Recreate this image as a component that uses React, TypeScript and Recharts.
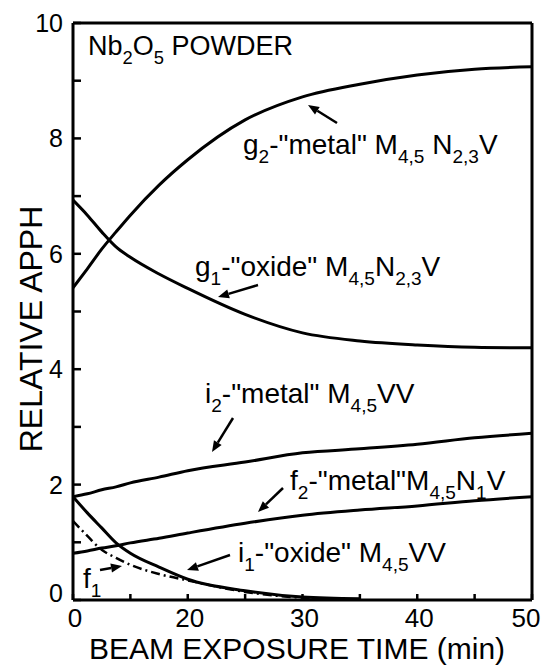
import React from "react";
import { LineChart, Line, XAxis, YAxis, Customized } from "recharts";

const FONT = "'Liberation Sans', Arial, sans-serif";

// sample times (min) and the values
const TIME_MIN = [0, 2.5, 5, 7.5, 10, 15, 20, 25, 30, 35, 40, 45, 50];
const G2_METAL = [5.41, 5.74, 6.08, 6.38, 6.67, 7.19, 7.63, 8.32, 8.72, 8.94, 9.1, 9.2, 9.24];
const G1_OXIDE = [6.93, 6.67, 6.38, 6.12, 5.94, 5.65, 5.4, 4.95, 4.63, 4.49, 4.42, 4.38, 4.37];
const I2_METAL = [1.79, 1.84, 1.91, 1.96, 2.03, 2.13, 2.24, 2.39, 2.55, 2.62, 2.7, 2.81, 2.89];
const F2_METAL = [0.81, 0.85, 0.9, 0.94, 0.99, 1.07, 1.16, 1.33, 1.47, 1.56, 1.63, 1.72, 1.79];
const I1_OXIDE = [1.79, 1.51, 1.25, 0.99, 0.81, 0.57, 0.36, 0.16, 0.05, 0.02];
const F1 = [1.37, 1.11, 0.87, 0.73, 0.61, 0.45, 0.34, 0.14, 0.04, 0.01];

const X_TICKS_MIN = [0, 10, 20, 25, 30, 35, 40, 45, 50];
const X_TICK_LABELS = ["0", "", "20", "", "30", "", "40", "", "50"];
const Y_TICKS = [0, 1, 2, 3, 4, 5, 6, 7, 8, 9, 10];
const Y_TICK_LABELS = ["0", "", "2", "", "4", "", "6", "", "8", "", "10"];

// the printed time axis is uneven: 0-20 min spans two tick steps, after that one step per 5 min
function axisPos(t: number) {
  return t <= 20 ? t / 10 : 2 + (t - 20) / 5;
}

function series(values: number[]) {
  return values.map((v, i) => ({ x: axisPos(TIME_MIN[i]), y: v }));
}

const X_TICK_POS = X_TICKS_MIN.map(axisPos);

const LeftTick = (props: any) => {
  const { x, y, payload } = props;
  const label = Y_TICK_LABELS[Y_TICKS.indexOf(payload.value)];
  return (
    <g>
      <line x1={x} y1={y} x2={x + 8} y2={y} stroke="#000" strokeWidth={2.5} />
      {label && (
        <text x={x - 10} y={y + 9 - (payload.value === 0 ? 7 : 0)} textAnchor="end" fontSize={25} fontFamily={FONT} fill="#000">
          {label}
        </text>
      )}
    </g>
  );
};

const RightTick = (props: any) => {
  const { x, y } = props;
  return <line x1={x} y1={y} x2={x - 6} y2={y} stroke="#000" strokeWidth={2.5} />;
};

const BottomTick = (props: any) => {
  const { x, y, payload } = props;
  const i = X_TICK_POS.indexOf(payload.value);
  const label = X_TICK_LABELS[i];
  const shift = i === X_TICK_POS.length - 1 ? -6 : 2;
  return (
    <g>
      <line x1={x} y1={y} x2={x} y2={y - 6} stroke="#000" strokeWidth={2.5} />
      {label && (
        <text x={x + shift} y={y + 27} textAnchor="middle" fontSize={26} fontFamily={FONT} fill="#000">
          {label}
        </text>
      )}
    </g>
  );
};

const TopTick = (props: any) => {
  const { x, y } = props;
  return <line x1={x} y1={y} x2={x} y2={y + 6} stroke="#000" strokeWidth={2.5} />;
};

// text pieces: [string, isSubscript]
function Lettering({ x, y, parts, size = 28 }: { x: number; y: number; parts: [string, boolean][]; size?: number }) {
  let sub = false;
  return (
    <text x={x} y={y} fontSize={size} fontFamily={FONT} fill="#000" style={{ whiteSpace: "pre" }}>
      {parts.map(([s, isSub], i) => {
        const dy = isSub === sub ? 0 : isSub ? 9 : -9;
        sub = isSub;
        return (
          <tspan key={i} dy={dy} fontSize={isSub ? size * 0.68 : size}>
            {s}
          </tspan>
        );
      })}
    </text>
  );
}

function Arrow({ from, to }: { from: [number, number]; to: [number, number] }) {
  const [x1, y1] = from;
  const [x2, y2] = to;
  const len = Math.hypot(x2 - x1, y2 - y1);
  const ux = (x2 - x1) / len;
  const uy = (y2 - y1) / len;
  const hl = 11;
  const hw = 4.5;
  const bx = x2 - ux * hl;
  const by = y2 - uy * hl;
  return (
    <g>
      <line x1={x1} y1={y1} x2={bx} y2={by} stroke="#000" strokeWidth={2.5} />
      <polygon
        points={`${x2},${y2} ${bx - uy * hw},${by + ux * hw} ${bx + uy * hw},${by - ux * hw}`}
        fill="#000"
      />
    </g>
  );
}

const Annotations = () => (
  <g>
    <Lettering x={88} y={55} size={27} parts={[["Nb", false], ["2", true], ["O", false], ["5", true], [" POWDER", false]]} />

    <Lettering x={243} y={154} parts={[["g", false], ["2", true], ['-"metal" M', false], ["4,5", true], [" N", false], ["2,3", true], ["V", false]]} />
    <Arrow from={[337, 123]} to={[308, 105]} />

    <Lettering x={195} y={276} parts={[["g", false], ["1", true], ['-"oxide" M', false], ["4,5", true], ["N", false], ["2,3", true], ["V", false]]} />
    <Arrow from={[258, 285]} to={[218, 297]} />

    <Lettering x={205} y={403} parts={[["i", false], ["2", true], ['-"metal" M', false], ["4,5", true], ["VV", false]]} />
    <Arrow from={[233, 418]} to={[212, 452]} />

    <Lettering x={290} y={490} parts={[["f", false], ["2", true], ['-"metal"M', false], ["4,5", true], ["N", false], ["1", true], ["V", false]]} />
    <Arrow from={[283, 488]} to={[258, 512]} />

    <Lettering x={238} y={562} parts={[["i", false], ["1", true], ['-"oxide" M', false], ["4,5", true], ["VV", false]]} />
    <Arrow from={[230, 555]} to={[187, 570]} />

    <Lettering x={83} y={588} parts={[["f", false], ["1", true]]} />
    <Arrow from={[100, 570]} to={[122, 566]} />

    <text x={297} y={659} textAnchor="middle" fontSize={30} fontFamily={FONT} fill="#000">
      BEAM EXPOSURE TIME (min)
    </text>
    <text transform="translate(42,329) rotate(-90)" textAnchor="middle" fontSize={32} fontFamily={FONT} fill="#000">
      RELATIVE APPH
    </text>
  </g>
);

export default function App() {
  const lineProps = {
    type: "monotone" as const,
    dataKey: "y",
    stroke: "#000",
    strokeWidth: 3,
    dot: false,
    isAnimationActive: false,
    xAxisId: "bottom",
    yAxisId: "left",
  };
  const axisLine = { stroke: "#000", strokeWidth: 3 };

  return (
    <div style={{ position: "absolute", left: 0, top: 0, background: "#fff", fontFamily: FONT }}>
      <LineChart width={545} height={667} margin={{ top: 0, right: 0, bottom: 0, left: 0 }}>
        <XAxis
          xAxisId="bottom"
          type="number"
          dataKey="x"
          domain={[0, 8]}
          ticks={X_TICK_POS}
          height={67}
          tickSize={0}
          tickMargin={0}
          tickLine={false}
          axisLine={axisLine}
          tick={<BottomTick />}
          allowDataOverflow
        />
        <XAxis
          xAxisId="top"
          orientation="top"
          type="number"
          dataKey="x"
          domain={[0, 8]}
          ticks={X_TICK_POS}
          height={23}
          tickSize={0}
          tickMargin={0}
          tickLine={false}
          axisLine={axisLine}
          tick={<TopTick />}
        />
        <YAxis
          yAxisId="left"
          type="number"
          domain={[0, 10]}
          ticks={Y_TICKS}
          width={73}
          tickSize={0}
          tickMargin={0}
          tickLine={false}
          axisLine={axisLine}
          tick={<LeftTick />}
        />
        <YAxis
          yAxisId="right"
          orientation="right"
          type="number"
          domain={[0, 10]}
          ticks={Y_TICKS}
          width={13}
          tickSize={0}
          tickMargin={0}
          tickLine={false}
          axisLine={axisLine}
          tick={<RightTick />}
        />

        <Line {...lineProps} data={series(G2_METAL)} />
        <Line {...lineProps} data={series(G1_OXIDE)} />
        <Line {...lineProps} data={series(I2_METAL)} />
        <Line {...lineProps} data={series(F2_METAL)} />
        <Line {...lineProps} data={series(I1_OXIDE)} />
        <Line {...lineProps} data={series(F1)} strokeWidth={2.5} strokeDasharray="9 4 2 4" />

        <Customized component={Annotations} />
      </LineChart>
    </div>
  );
}
